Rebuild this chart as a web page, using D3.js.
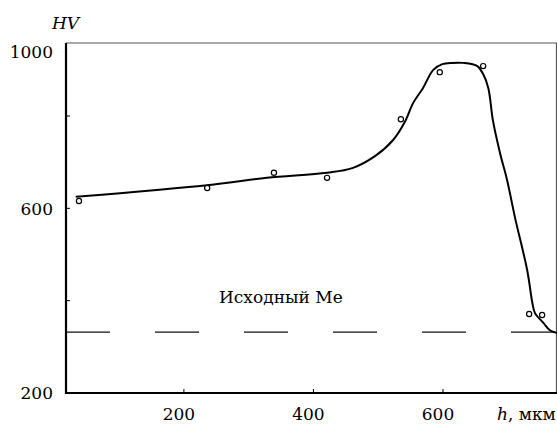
<!DOCTYPE html>
<html>
<head>
<meta charset="utf-8">
<script src="https://cdn.jsdelivr.net/npm/d3@7"></script>
<style>
  body { margin: 0; background: #fff; }
  svg { display: block; }
</style>
</head>
<body>
<svg id="chart"></svg>
<script>
// Microhardness profile HV vs depth h

let width = 557;
let height = 426;

// smooth curve
const curveH  = [33, 236, 328, 421, 460, 495, 523, 541, 554, 569, 585, 599, 614, 631, 653, 662, 670, 677, 688, 699, 711, 730, 738, 742, 755, 765, 776];
const curveHV = [625, 650, 666, 677, 687, 713, 748, 787, 841, 887, 944, 962, 966, 966, 956, 931, 887, 791, 720, 661, 581, 466, 395, 373, 352, 336, 330];

// measured points (open circles)
const pointH  = [38, 236, 339, 421, 535, 595, 662, 733, 753];
const pointHV = [616, 644, 677, 666, 793, 937, 956, 371, 369];

// base metal level
const baseHV = 332;
const baseLabel = "Исходный Ме";

const xTicks = [200, 400, 600];
const yTicks = [200, 400, 600, 800, 1000];
const yLabels = [200, 600, 1000];

const mLeft = 66, mRight = 557, mTop = 43, mBottom = 393;
const serif = "'DejaVu Serif', 'Liberation Serif', serif";

const x = d3.scaleLinear().domain([18, 776]).range([mLeft, mRight]);
// the original axis is not uniform near the top
const y = d3.scaleLinear().domain([200, 800, 1000]).range([mBottom, 116, 52]);

const svg = d3.select("#chart")
  .attr("width", width)
  .attr("height", height)
  .attr("viewBox", [0, 0, width, height]);

// frame: top and right thin
svg.append("path")
  .attr("d", `M${mLeft},${mTop}H${mRight - 0.5}V${mBottom}`)
  .attr("fill", "none")
  .attr("stroke", "#555")
  .attr("stroke-width", 1.2);

// base metal dashed line
svg.append("line")
  .attr("x1", mLeft).attr("x2", mRight)
  .attr("y1", y(baseHV)).attr("y2", y(baseHV))
  .attr("stroke", "#111")
  .attr("stroke-width", 1.3)
  .attr("stroke-dasharray", "44,45");

svg.append("text")
  .attr("x", 219)
  .attr("y", y(baseHV) - 29)
  .style("font-family", serif)
  .style("font-size", "17px")
  .text(baseLabel);

// curve
const line = d3.line()
  .x(d => x(d[0]))
  .y(d => y(d[1]))
  .curve(d3.curveCatmullRom.alpha(0.5));

svg.append("path")
  .datum(d3.zip(curveH, curveHV))
  .attr("d", line)
  .attr("fill", "none")
  .attr("stroke", "#000")
  .attr("stroke-width", 2);

// points
svg.append("g")
  .selectAll("circle")
  .data(d3.zip(pointH, pointHV))
  .join("circle")
  .attr("cx", d => x(d[0]))
  .attr("cy", d => y(d[1]))
  .attr("r", 2.6)
  .attr("fill", "#fff")
  .attr("stroke", "#000")
  .attr("stroke-width", 1.2);

// axes (left and bottom, thick)
svg.append("line")
  .attr("x1", mLeft).attr("x2", mLeft)
  .attr("y1", mTop).attr("y2", mBottom + 1)
  .attr("stroke", "#000").attr("stroke-width", 2.2);
svg.append("line")
  .attr("x1", mLeft - 1).attr("x2", mRight)
  .attr("y1", mBottom).attr("y2", mBottom)
  .attr("stroke", "#000").attr("stroke-width", 2.2);

// inward ticks
svg.append("g")
  .selectAll("line")
  .data(yTicks.filter(d => d > 200 && d < 1000))
  .join("line")
  .attr("x1", mLeft).attr("x2", mLeft + 4)
  .attr("y1", d => y(d)).attr("y2", d => y(d))
  .attr("stroke", "#000").attr("stroke-width", 1);

svg.append("g")
  .selectAll("line")
  .data(xTicks)
  .join("line")
  .attr("x1", d => x(d)).attr("x2", d => x(d))
  .attr("y1", mBottom).attr("y2", mBottom - 4)
  .attr("stroke", "#000").attr("stroke-width", 1);

// tick labels
svg.append("g")
  .selectAll("text")
  .data(yLabels)
  .join("text")
  .attr("x", 53)
  .attr("y", d => y(d))
  .attr("dy", "0.38em")
  .attr("text-anchor", "end")
  .style("font-family", serif)
  .style("font-size", "17px")
  .text(d => d);

svg.append("g")
  .selectAll("text")
  .data(xTicks)
  .join("text")
  .attr("x", d => x(d) - 5)
  .attr("y", 420)
  .attr("text-anchor", "middle")
  .style("font-family", serif)
  .style("font-size", "17px")
  .text(d => d);

// axis titles
svg.append("text")
  .attr("x", 52)
  .attr("y", 29)
  .style("font-family", serif)
  .style("font-size", "17px")
  .style("font-style", "italic")
  .text("HV");

const xt = svg.append("text")
  .attr("x", 497)
  .attr("y", 420)
  .style("font-family", serif)
  .style("font-size", "17px");
xt.append("tspan").style("font-style", "italic").text("h");
xt.append("tspan").text(", мкм");
</script>
</body>
</html>
